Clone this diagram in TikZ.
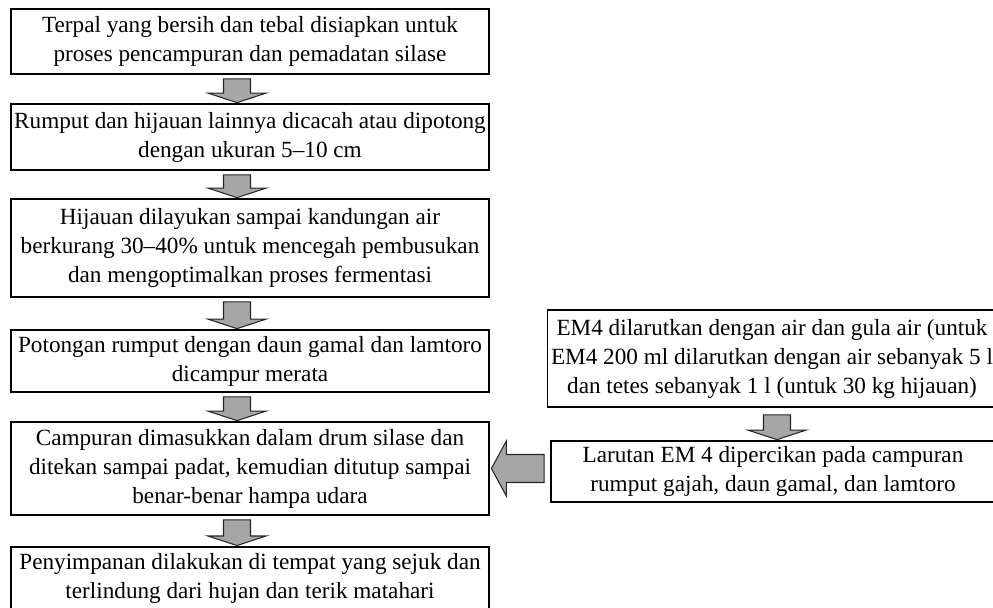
\documentclass[tikz,border=0pt]{standalone}
\usepackage{fontspec}
\setmainfont{Liberation Serif}
\usepackage{tikz}
\usetikzlibrary{calc}

% block arrow pointing down from one box to the next
\newcommand{\dnarrow}[4]{%
  \draw[blk] let \p1=($(#1.south)+(#3,-#4)$), \p2=($(#2.north)+(#3,0)$) in
    (\x1-0.27cm,\y1) -- (\x1+0.27cm,\y1) -- (\x1+0.27cm,\y2+0.2cm) -- (\x1+0.58cm,\y2+0.2cm)
    -- (\x1,\y2+0.01cm) -- (\x1-0.58cm,\y2+0.2cm) -- (\x1-0.27cm,\y2+0.2cm) -- cycle;}

\begin{document}
\begin{tikzpicture}[line join=miter]
  \tikzstyle{box}=[draw,line width=1pt,align=center,inner sep=2pt,font=\fontsize{13.2}{16.5}\selectfont]
  \tikzstyle{blk}=[draw=black!85,fill=gray!70,line width=0.6pt]
  \useasboundingbox (0,0) rectangle (19.86,-12.14);

  % left column
  \node[box,minimum width=9.56cm,minimum height=1.30cm] (b1) at (5.0,-0.83)
    {Terpal yang bersih dan tebal disiapkan untuk\\proses pencampuran dan pemadatan silase};
  \node[box,minimum width=9.56cm,minimum height=1.32cm] (b2) at (5.0,-2.74)
    {Rumput dan hijauan lainnya dicacah atau dipotong\\dengan ukuran 5–10 cm};
  \node[box,minimum width=9.56cm,minimum height=1.96cm] (b3) at (5.0,-4.96)
    {Hijauan dilayukan sampai kandungan air\\berkurang 30–40\% untuk mencegah pembusukan\\dan mengoptimalkan proses fermentasi};
  \node[box,minimum width=9.56cm,minimum height=1.24cm] (b4) at (5.0,-7.22)
    {Potongan rumput dengan daun gamal dan lamtoro\\dicampur merata};
  \node[box,minimum width=9.56cm,minimum height=1.86cm] (b5) at (5.0,-9.37)
    {Campuran dimasukkan dalam drum silase dan\\ditekan sampai padat, kemudian ditutup sampai\\benar-benar hampa udara};
  \node[box,minimum width=9.56cm,minimum height=1.27cm,anchor=north] (b6) at (5.0,-10.92)
    {Penyimpanan dilakukan di tempat yang sejuk dan\\terlindung dari hujan dan terik matahari};

  % right column
  \node[box,minimum width=8.92cm,minimum height=1.94cm] (r1) at (15.44,-7.17)
    {EM4 dilarutkan dengan air dan gula air (untuk\\EM4 200 ml dilarutkan dengan air sebanyak 5 l\\dan tetes sebanyak 1 l (untuk 30 kg hijauan)};
  \node[box,minimum width=8.88cm,minimum height=1.22cm] (r2) at (15.46,-9.43)
    {Larutan EM 4 dipercikan pada campuran\\rumput gajah, daun gamal, dan lamtoro};

  % arrows
  \dnarrow{b1}{b2}{-0.26}{0.08}
  \dnarrow{b2}{b3}{-0.26}{0.08}
  \dnarrow{b3}{b4}{-0.26}{0.08}
  \dnarrow{b4}{b5}{-0.26}{0.08}
  \dnarrow{b5}{b6}{-0.26}{0.08}
  \dnarrow{r1}{r2}{0.1}{0.14}
  \draw[blk] let \p1=($(r2.west)+(-0.12,0)$), \p2=($(b5.east)+(0.03,0)$) in
    (\x1,\y2+0.28cm) -- (\x2+0.3cm,\y2+0.28cm) -- (\x2+0.3cm,\y2+0.55cm) -- (\x2,\y2)
    -- (\x2+0.3cm,\y2-0.55cm) -- (\x2+0.3cm,\y2-0.28cm) -- (\x1,\y2-0.28cm) -- cycle;
\end{tikzpicture}
\end{document}
